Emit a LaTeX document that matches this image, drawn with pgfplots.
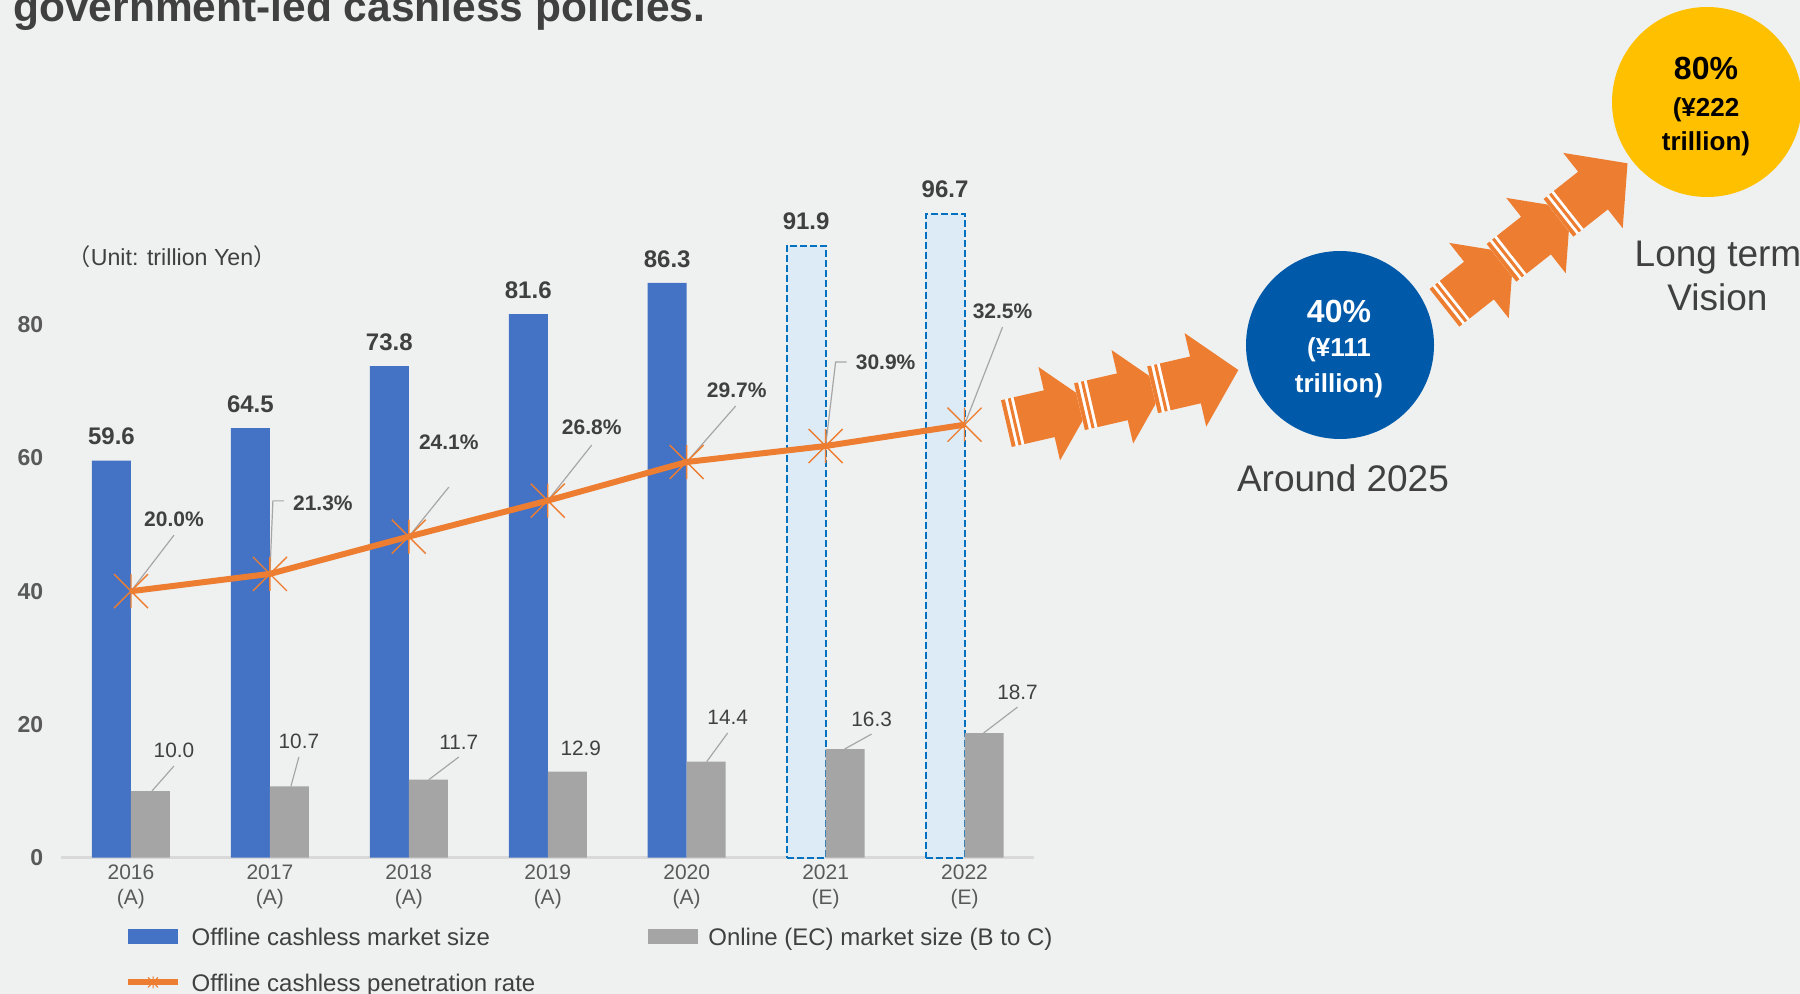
\documentclass[border=0pt]{standalone}
\usepackage{pgfplots}
\pgfplotsset{compat=1.18}
\usepackage{fontspec}
\setmainfont{Liberation Sans}
\newfontfamily\cjk{Noto Sans CJK JP}
\definecolor{bg}{RGB}{239,241,240}
\definecolor{barblue}{RGB}{68,114,196}
\definecolor{bargray}{RGB}{165,165,165}
\definecolor{lineorange}{RGB}{237,125,49}
\definecolor{txt}{RGB}{64,64,64}
\definecolor{ticktxt}{RGB}{89,89,89}
\definecolor{leader}{RGB}{166,166,166}
\definecolor{axisgray}{RGB}{217,217,217}
\definecolor{estfill}{RGB}{221,235,247}
\definecolor{estline}{RGB}{0,112,192}
\definecolor{circblue}{RGB}{0,89,169}
\definecolor{circyellow}{RGB}{255,192,0}
\newcommand{\fs}[2]{\fontsize{#1}{#2}\selectfont}
\pgfdeclareplotmark{xstar}{%
  \pgfpathmoveto{\pgfqpoint{-\pgfplotmarksize}{-\pgfplotmarksize}}%
  \pgfpathlineto{\pgfqpoint{\pgfplotmarksize}{\pgfplotmarksize}}%
  \pgfpathmoveto{\pgfqpoint{-\pgfplotmarksize}{\pgfplotmarksize}}%
  \pgfpathlineto{\pgfqpoint{\pgfplotmarksize}{-\pgfplotmarksize}}%
  \pgfpathmoveto{\pgfqpoint{0pt}{-\pgfplotmarksize}}%
  \pgfpathlineto{\pgfqpoint{0pt}{\pgfplotmarksize}}%
  \pgfusepathqstroke}
\newcommand{\fatarrow}[3]{%
  \begin{scope}[shift={(#1,#2)}, rotate=#3]
    \fill[white] (-44pt,-12pt) rectangle (-37.5pt,12pt);
    \fill[lineorange] (-44pt,-12pt) rectangle (-42pt,12pt);
    \fill[lineorange] (-40.5pt,-12pt) rectangle (-39pt,12pt);
    \fill[lineorange] (-37.5pt,-12pt) -- (-22pt,-12pt) -- (-22pt,-24pt) -- (0pt,0pt)
      -- (-22pt,24pt) -- (-22pt,12pt) -- (-37.5pt,12pt) -- cycle;
  \end{scope}}
\tikzset{
  leader/.style={draw=leader, line width=0.6pt},
  glab/.style={anchor=center, inner sep=0pt, font=\fs{10.4pt}{12pt}, text=txt},
  rlab/.style={anchor=center, inner sep=0pt, font=\fs{10.5pt}{12pt}\bfseries, text=txt},
}
\begin{document}
\begin{tikzpicture}
\fill[bg] (0,0) rectangle (900pt,-497pt);
% title (cut at top as in the reference)
\node[anchor=base west, inner sep=0pt, font=\fs{21.25pt}{25pt}\bfseries, text=txt] at (6.5pt,-11pt) {government-led cashless policies.};
% unit
\node[anchor=base, inner sep=0pt, font=\fs{11.6pt}{13pt}, text=txt] at (86pt,-132.8pt) {{\cjk （}Unit: trillion Yen{\cjk ）}};

\begin{axis}[
  at={(30.75pt,-428.8pt)}, anchor=south west,
  scale only axis, width=486.25pt, height=333pt,
  xmin=-0.5, xmax=6.5, ymin=0, ymax=100,
  xtick={0,...,6},
  xticklabels={{2016\\(A)},{2017\\(A)},{2018\\(A)},{2019\\(A)},{2020\\(A)},{2021\\(E)},{2022\\(E)}},
  ytick={0,20,40,60,80},
  axis x line*=bottom, axis y line*=left,
  y axis line style={draw=none},
  x axis line style={draw=axisgray, line width=1.3pt, -},
  major tick length=0pt, tick style={draw=none},
  xticklabel style={align=center, inner sep=0pt, yshift=-3.3pt, font=\fs{10.5pt}{12.65pt}, text=ticktxt},
  yticklabel style={inner sep=0pt, xshift=-9pt, font=\fs{11.5pt}{13pt}\bfseries, text=ticktxt},
  /pgf/number format/assume math mode=true,
  clip=false,
  bar width=19.5pt,
  legend columns=2, legend cell align=left,
  legend style={draw=none, fill=none, at={(0.0649,-0.1048)}, anchor=north west,
    inner sep=0pt, row sep=14.4pt, font=\fs{12pt}{14pt}, text=txt,
    nodes={inner sep=0pt, text height=8.6pt, text depth=0pt},
    /tikz/every odd column/.append style={column sep=5.3pt},
    /tikz/every even column/.append style={column sep=56.2pt}},
  every node near coord/.append style={inner sep=0pt, text depth=0pt, xshift=-9.75pt, yshift=7.7pt, font=\fs{12pt}{14pt}\bfseries, text=txt},
]
\addplot[ybar, bar shift=-9.75pt, fill=barblue, draw=none,
  nodes near coords, /pgf/number format/fixed, /pgf/number format/fixed zerofill, /pgf/number format/precision=1,
  legend image code/.code={\fill[barblue] (0pt,-3.75pt) rectangle (25pt,3.75pt);}]
  coordinates {(0,59.6) (1,64.5) (2,73.8) (3,81.6) (4,86.3)};
\addlegendentry{Offline cashless market size}
\addplot[ybar, bar shift=-9.75pt, fill=estfill, draw=estline, line width=1pt, dash pattern=on 3.5pt off 1.5pt,
  forget plot, nodes near coords, /pgf/number format/fixed, /pgf/number format/fixed zerofill, /pgf/number format/precision=1]
  coordinates {(5,91.9) (6,96.7)};
\addplot[ybar, bar shift=9.75pt, fill=bargray, draw=none,
  legend image code/.code={\fill[bargray] (0pt,-3.75pt) rectangle (25pt,3.75pt);}]
  coordinates {(0,10.0) (1,10.7) (2,11.7) (3,12.9) (4,14.4) (5,16.3) (6,18.7)};
\addlegendentry{Online (EC) market size (B to C)}
\addlegendimage{legend image code/.code={
  \draw[lineorange, line width=3pt] (0pt,0pt) -- (25pt,0pt);
  \draw[lineorange, line width=0.5pt] (10pt,-2.5pt) -- (15pt,2.5pt) (10pt,2.5pt) -- (15pt,-2.5pt) (12.5pt,-3pt) -- (12.5pt,3pt);}}
\addlegendentry{Offline cashless penetration rate}
% gray bar labels with leader lines
\draw[leader] ([shift={(10.5pt,0pt)}]axis cs:0,10.0) -- ([shift={(21.5pt,12.5pt)}]axis cs:0,10.0);
\node[glab] at ([shift={(21.5pt,20.5pt)}]axis cs:0,10.0) {10.0};
\draw[leader] ([shift={(10.5pt,0pt)}]axis cs:1,10.7) -- ([shift={(14.5pt,14.65pt)}]axis cs:1,10.7);
\node[glab] at ([shift={(14.5pt,22.65pt)}]axis cs:1,10.7) {10.7};
\draw[leader] ([shift={(10pt,0pt)}]axis cs:2,11.7) -- ([shift={(25pt,11.35pt)}]axis cs:2,11.7);
\node[glab] at ([shift={(25pt,18.85pt)}]axis cs:2,11.7) {11.7};
\node[glab] at ([shift={(16.5pt,11.6pt)}]axis cs:3,12.9) {12.9};
\draw[leader] ([shift={(10pt,0pt)}]axis cs:4,14.4) -- ([shift={(20.5pt,14.35pt)}]axis cs:4,14.4);
\node[glab] at ([shift={(20.5pt,22.35pt)}]axis cs:4,14.4) {14.4};
\draw[leader] ([shift={(9.5pt,0pt)}]axis cs:5,16.3) -- ([shift={(23pt,7.5pt)}]axis cs:5,16.3);
\node[glab] at ([shift={(23pt,15pt)}]axis cs:5,16.3) {16.3};
\draw[leader] ([shift={(9.5pt,0pt)}]axis cs:6,18.7) -- ([shift={(26.5pt,13pt)}]axis cs:6,18.7);
\node[glab] at ([shift={(26.5pt,20.5pt)}]axis cs:6,18.7) {18.7};
\end{axis}

\begin{axis}[
  at={(30.75pt,-428.8pt)}, anchor=south west,
  scale only axis, width=486.25pt, height=333pt,
  xmin=-0.5, xmax=6.5, ymin=0, ymax=50,
  hide axis, clip=false,
]
\addplot[lineorange, line width=3pt, mark=xstar, mark size=8.5pt, mark options={line width=0.7pt}]
  coordinates {(0,20.0) (1,21.3) (2,24.1) (3,26.8) (4,29.7) (5,30.9) (6,32.5)};
\draw[leader] (axis cs:0,20.0) -- ([shift={(21.5pt,28pt)}]axis cs:0,20.0);
\node[rlab] at ([shift={(21.5pt,36pt)}]axis cs:0,20.0) {20.0\%};
\draw[leader] (axis cs:1,21.3) -- ([shift={(1.5pt,36.5pt)}]axis cs:1,21.3) -- ([shift={(7pt,36.5pt)}]axis cs:1,21.3);
\node[rlab] at ([shift={(26.5pt,35.5pt)}]axis cs:1,21.3) {21.3\%};
\draw[leader] (axis cs:2,24.1) -- ([shift={(20pt,24.75pt)}]axis cs:2,24.1);
\node[rlab] at ([shift={(20pt,47.25pt)}]axis cs:2,24.1) {24.1\%};
\draw[leader] (axis cs:3,26.8) -- ([shift={(22pt,27.8pt)}]axis cs:3,26.8);
\node[rlab] at ([shift={(22pt,36.8pt)}]axis cs:3,26.8) {26.8\%};
\draw[leader] (axis cs:4,29.7) -- ([shift={(24.5pt,28pt)}]axis cs:4,29.7);
\node[rlab] at ([shift={(25pt,36pt)}]axis cs:4,29.7) {29.7\%};
\draw[leader] (axis cs:5,30.9) -- ([shift={(5pt,42pt)}]axis cs:5,30.9) -- ([shift={(10.5pt,42pt)}]axis cs:5,30.9);
\node[rlab] at ([shift={(30pt,42pt)}]axis cs:5,30.9) {30.9\%};
\draw[leader] (axis cs:6,32.5) -- ([shift={(19pt,48.8pt)}]axis cs:6,32.5);
\node[rlab] at ([shift={(19pt,56.8pt)}]axis cs:6,32.5) {32.5\%};
\end{axis}

% arrows toward the targets
\fatarrow{546.05pt}{-201.9pt}{13}
\fatarrow{582.6pt}{-193.45pt}{13}
\fatarrow{619.15pt}{-185pt}{13}
\fatarrow{756.75pt}{-126.65pt}{38.3}
\fatarrow{785.25pt}{-104.15pt}{38.3}
\fatarrow{813.75pt}{-81.65pt}{38.3}
% target circles
\fill[circblue] (670pt,-172.5pt) circle (47pt);
\node[anchor=base, inner sep=0pt, font=\fs{16pt}{18pt}\bfseries, text=white] at (669.5pt,-161.2pt) {40\%};
\node[anchor=base, inner sep=0pt, font=\fs{13pt}{15pt}\bfseries, text=white] at (669.5pt,-178.15pt) {(¥111};
\node[anchor=base, inner sep=0pt, font=\fs{13pt}{15pt}\bfseries, text=white] at (669.5pt,-196.15pt) {trillion)};
\node[anchor=base, inner sep=0pt, font=\fs{18.5pt}{22pt}, text=txt] at (671.5pt,-245.8pt) {Around 2025};
\fill[circyellow] (853.5pt,-51pt) circle (47.5pt);
\node[anchor=base, inner sep=0pt, font=\fs{16pt}{18pt}\bfseries, text=black] at (853pt,-39.7pt) {80\%};
\node[anchor=base, inner sep=0pt, font=\fs{13pt}{15pt}\bfseries, text=black] at (853pt,-58.15pt) {(¥222};
\node[anchor=base, inner sep=0pt, font=\fs{13pt}{15pt}\bfseries, text=black] at (853pt,-75.15pt) {trillion)};
\node[anchor=base, inner sep=0pt, font=\fs{18.5pt}{22pt}, text=txt] at (859pt,-133.3pt) {Long term};
\node[anchor=base, inner sep=0pt, font=\fs{18.5pt}{22pt}, text=txt] at (858.75pt,-155.5pt) {Vision};
\pgfresetboundingbox
\useasboundingbox (0,0) rectangle (900pt,-497pt);
\end{tikzpicture}
\end{document}
